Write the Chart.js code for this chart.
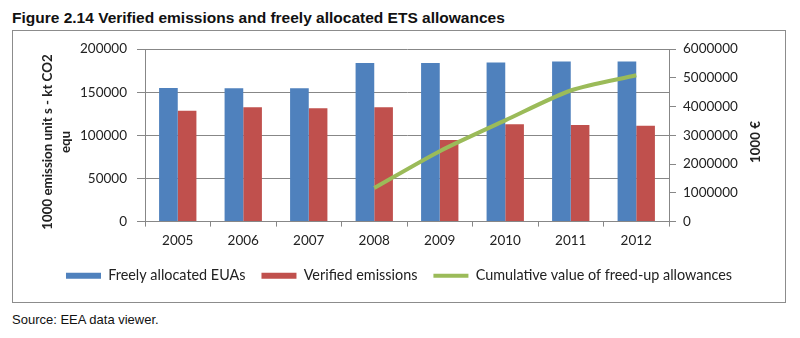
<!DOCTYPE html>
<html>
<head>
<meta charset="utf-8">
<script src="https://cdn.jsdelivr.net/npm/chart.js@4.4.0/dist/chart.umd.min.js"></script>
<style>
  body { margin: 0; background: #fff; width: 800px; height: 338px; position: relative; overflow: hidden; }
  #heading { position: absolute; left: 12px; top: 9px; font: bold 15.5px "Liberation Sans", Arial, sans-serif; color: #111; white-space: nowrap; }
  #frame { position: absolute; left: 12px; top: 30px; width: 772px; height: 271px; border: 1px solid #8c8c8c; }
  #myChart { display: block; }
  #source { position: absolute; left: 12px; top: 312px; font: 13px "Liberation Sans", Arial, sans-serif; color: #111; white-space: nowrap; }
</style>
</head>
<body>
<div id="heading">Figure 2.14 Verified emissions and freely allocated ETS allowances</div>
<div id="frame"><canvas id="myChart" width="772" height="271"></canvas></div>
<div id="source">Source: EEA data viewer.</div>
<script>
// years on the category axis
const labels = ['2005', '2006', '2007', '2008', '2009', '2010', '2011', '2012'];

// 1000 emission units (kt CO2 equ), left axis
const freelyAllocated = [155000, 154500, 154500, 184000, 184000, 184500, 185500, 185500];
const verifiedEmissions = [128500, 132500, 131500, 132500, 94500, 113000, 112000, 111000];

// 1000 euro, right axis (only from 2008 on)
const cumulativeValue = [null, null, null, 1170000, 2450000, 3520000, 4560000, 5090000];

const leftTitle = ['1000 emission unit s - kt CO2', 'equ'];
const rightTitle = '1000 €';

const gridColor = '#878787';
const textColor = '#222';
const fontFamily = 'Lato, "Open Sans", sans-serif';
const tickFont = { family: fontFamily, size: 13.5 };

// rotated axis titles, centred a bit lower than the scale titles would be
const axisTitles = {
    id: 'axisTitles',
    afterDraw: (chart) => {
        const {ctx} = chart;
        ctx.save();
        ctx.fillStyle = textColor;
        ctx.font = 'bold 13.3px ' + fontFamily;
        ctx.textAlign = 'center';
        ctx.textBaseline = 'middle';
        const cy = 111;
        leftTitle.forEach((line, i) => {
            ctx.save();
            ctx.translate(35 + i * 18, cy);
            ctx.rotate(-Math.PI / 2);
            ctx.fillText(line, 0, 0);
            ctx.restore();
        });
        ctx.translate(743, cy);
        ctx.rotate(-Math.PI / 2);
        ctx.fillText(rightTitle, 0, 0);
        ctx.restore();
    }
};

const data = {
    labels: labels,
    datasets: [{
        type: 'bar',
        label: 'Freely allocated EUAs',
        data: freelyAllocated,
        backgroundColor: '#4F81BD',
        pointStyle: 'rect',
        yAxisID: 'y',
        order: 1
    }, {
        type: 'bar',
        label: 'Verified emissions',
        data: verifiedEmissions,
        backgroundColor: '#C0504D',
        pointStyle: 'rect',
        yAxisID: 'y',
        order: 1
    }, {
        type: 'line',
        label: 'Cumulative value of freed-up allowances',
        data: cumulativeValue,
        borderColor: '#9BBB59',
        backgroundColor: '#9BBB59',
        borderWidth: 4,
        pointRadius: 0,
        pointStyle: 'line',
        tension: 0.25,
        yAxisID: 'y1',
        order: 0
    }]
};

// plain integers on both value axes, no grouping commas
const plain = (v) => String(v);

const config = {
    data: data,
    options: {
        responsive: false,
        animation: false,
        layout: { padding: { top: 18, left: 0, right: 0, bottom: 9 } },
        datasets: {
            bar: { categoryPercentage: 0.57, barPercentage: 1.0 }
        },
        plugins: {
            tooltip: { enabled: false },
            legend: {
                position: 'bottom',
                labels: {
                    usePointStyle: true,
                    pointStyleWidth: 35,
                    boxHeight: 6,
                    padding: 16,
                    color: textColor,
                    font: { family: fontFamily, size: 14.4 },
                    sort: (a, b) => a.datasetIndex - b.datasetIndex
                }
            }
        },
        scales: {
            x: {
                afterFit: (s) => { s.height = 31; },
                grid: { display: true, drawOnChartArea: false, tickLength: 5, color: gridColor },
                border: { color: gridColor },
                ticks: { padding: 6, color: textColor, font: tickFont }
            },
            y: {
                position: 'left',
                min: 0,
                max: 200000,
                afterFit: (s) => { s.width = 132; },
                grid: { color: gridColor, tickLength: 8 },
                border: { color: gridColor },
                ticks: { stepSize: 50000, padding: 10, color: textColor, font: tickFont, callback: plain }
            },
            y1: {
                position: 'right',
                min: 0,
                max: 6000000,
                afterFit: (s) => { s.width = 116; },
                grid: { drawOnChartArea: false, color: gridColor, tickLength: 7 },
                border: { color: gridColor },
                ticks: { stepSize: 1000000, padding: 7, color: textColor, font: tickFont, callback: plain }
            }
        }
    },
    plugins: [axisTitles]
};

const myChart = new Chart(document.getElementById('myChart'), config);
</script>
</body>
</html>
